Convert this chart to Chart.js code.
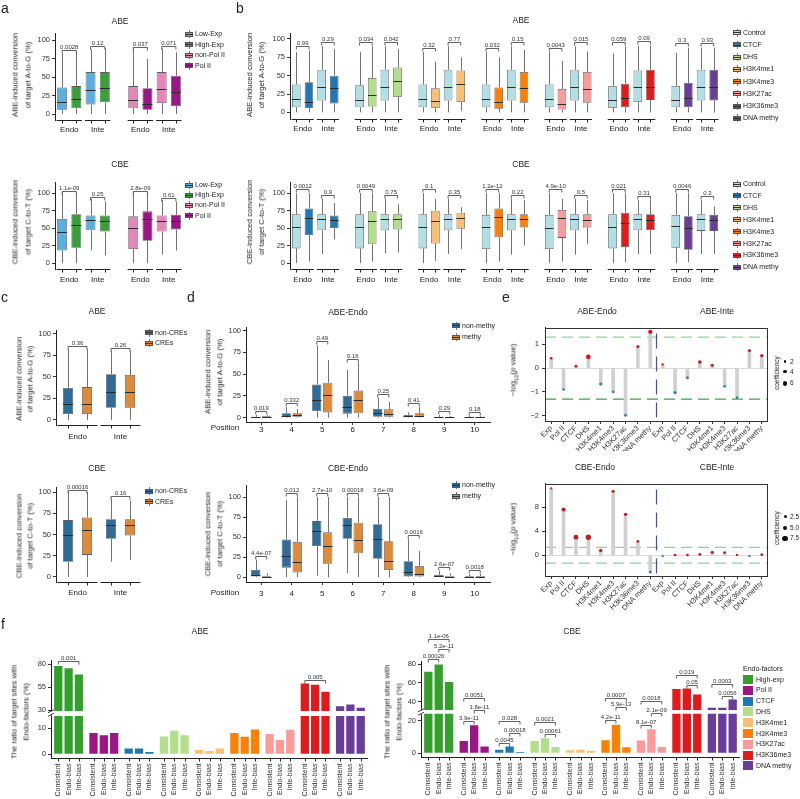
<!DOCTYPE html>
<html>
<head>
<meta charset="utf-8">
<title>Endo vs Inte editing</title>
<script src="https://cdn.jsdelivr.net/npm/chart.js@4.4.1/dist/chart.umd.min.js"></script>
<style>
  html, body { margin: 0; padding: 0; background: #fff; }
  body { position: relative; width: 800px; height: 799px; overflow: hidden;
         font-family: 'Liberation Sans', Arial, Helvetica, sans-serif; color: #222; }
  canvas { position: absolute; }
  .t { position: absolute; white-space: nowrap; line-height: 1.2; text-align: center; color: #222; will-change: transform; }
  .k { position: absolute; }
</style>
</head>
<body>
<script>
// ---------------- data ----------------
// every box is [min, q1, median, q3, max] of the conversion (%)
const facetNames = ['Endo', 'Inte'];
const pctTicks = [0, 25, 50, 75, 100];

// a: expression / Pol II
const aSeries = ['Low-Exp', 'High-Exp', 'non-Pol II', 'Pol II'];
const aColors = ['#5aaee0', '#37a03a', '#e586bb', '#9c1485'];
// order: Endo A, Endo B, Inte A, Inte B
const aAbeExp = [[0, 6, 17, 36, 82], [0, 8, 20, 38, 84], [0, 13, 33, 57, 88], [0, 16, 35, 57, 89]];
const aAbePol = [[0, 8, 19, 38, 88], [0, 6, 14, 35, 75], [0, 15, 34, 57, 89], [0, 11, 30, 52, 84]];
const aAbeP = ['0.0028', '0.12', '0.037', '0.071'];
const aCbeExp = [[0, 18, 45, 63, 100], [0, 22, 55, 70, 100], [18, 47, 62, 68, 92], [11, 45, 60, 68, 88]];
const aCbePol = [[0, 20, 50, 67, 100], [0, 32, 63, 74, 100], [12, 45, 60, 68, 90], [18, 48, 60, 69, 88]];
const aCbeP = ['1.1e-09', '0.25', '2.8e-09', '0.61'];

// b: epigenetic factors vs control
const bSeries = ['Control', 'CTCF', 'DHS', 'H3K4me1', 'H3K4me3', 'H3K27ac', 'H3K36me3', 'DNA methy'];
const bColors = ['#b0e0e6', '#1f78b4', '#b2df8a', '#fdbf6f', '#ff7f00', '#fb9a99', '#e31a1c', '#6a3d9a'];
// one row per factor: Endo control, Endo factor, Inte control, Inte factor
const bAbeBoxes = [
  [[0, 7, 18, 38, 82], [0, 6, 14, 41, 84], [0, 16, 35, 58, 90], [0, 12, 33, 50, 86]],
  [[0, 7, 17, 37, 82], [0, 8, 24, 47, 90], [0, 16, 34, 58, 90], [0, 21, 43, 61, 86]],
  [[0, 7, 18, 38, 82], [0, 6, 15, 33, 69], [0, 16, 35, 58, 90], [2, 14, 38, 57, 75]],
  [[0, 7, 18, 38, 82], [0, 5, 14, 34, 75], [0, 16, 35, 58, 90], [0, 13, 33, 55, 85]],
  [[0, 7, 18, 38, 82], [0, 4, 12, 32, 70], [0, 16, 35, 58, 90], [0, 13, 32, 55, 83]],
  [[0, 6, 17, 36, 80], [0, 7, 19, 39, 90], [0, 14, 34, 57, 91], [0, 17, 35, 58, 91]],
  [[0, 7, 17, 36, 81], [0, 7, 19, 40, 88], [0, 16, 35, 58, 88], [0, 16, 35, 58, 88]]
];
const bAbeP = ['0.99', '0.29', '0.034', '0.042', '0.32', '0.77', '0.032', '0.15', '0.0043', '0.015', '0.059', '0.09', '0.3', '0.93'];
const bCbeBoxes = [
  [[0, 21, 52, 70, 100], [2, 40, 64, 78, 100], [13, 47, 63, 70, 92], [34, 50, 62, 68, 86]],
  [[0, 21, 51, 70, 100], [2, 27, 60, 74, 100], [14, 47, 63, 70, 92], [15, 48, 63, 70, 84]],
  [[0, 21, 52, 70, 100], [3, 28, 60, 75, 92], [13, 47, 63, 70, 92], [20, 49, 64, 72, 80]],
  [[0, 20, 51, 69, 100], [2, 37, 66, 78, 100], [12, 47, 63, 70, 92], [25, 51, 63, 70, 90]],
  [[0, 20, 50, 69, 100], [2, 36, 65, 76, 92], [12, 47, 63, 70, 92], [27, 51, 62, 70, 90]],
  [[0, 21, 51, 70, 100], [1, 23, 57, 72, 100], [13, 47, 63, 70, 90], [13, 47, 62, 70, 90]],
  [[0, 22, 53, 69, 100], [1, 19, 50, 67, 100], [13, 46, 63, 70, 90], [13, 46, 61, 69, 81]]
];
const bCbeP = ['0.0012', '0.9', '0.0049', '0.75', '0.1', '0.35', '1.2e-12', '0.22', '4.9e-10', '0.5', '0.021', '0.31', '0.0046', '0.3'];

// c: CREs
const cSeries = ['non-CREs', 'CREs'];
const cColors = ['#2e6c9a', '#de8a38'];
const cAbeNon = [[0, 7, 18, 37, 82], [0, 14, 32, 53, 80]];
const cAbeCre = [[0, 7, 18, 38, 82], [0, 14, 32, 52, 80]];
const cAbeP = ['0.36', '0.26'];
const cCbeNon = [[0, 18, 50, 67, 100], [18, 45, 61, 68, 92]];
const cCbeCre = [[0, 26, 55, 70, 100], [20, 49, 61, 68, 90]];
const cCbeP = ['0.00016', '0.16'];

// d: DNA methylation by protospacer position
const dPositions = ['3', '4', '5', '6', '7', '8', '9', '10'];
const dSeries = ['non-methy', 'methy'];
const dAbeNon = [[0, 0, 0.5, 1, 3], [0, 0.5, 2, 5, 12], [0, 7.6, 20, 38, 83], [0, 4.6, 12, 25, 55],
                 [0, 1, 5, 10, 23], [0, 0.5, 1.5, 3, 6], [0, 0, 0.5, 1, 3], [0, 0, 0.3, 0.8, 2]];
const dAbeMethy = [[0, 0, 1, 1.5, 3], [0, 1, 2.5, 5, 10], [0, 6, 25.6, 40, 66], [0, 5, 20, 31, 63],
                   [0, 1, 4, 9.5, 18], [0, 0.5, 2, 5, 12], [0, 0, 0.3, 0.8, 2], [0, 0, 0.3, 0.8, 2]];
const dAbeP = ['0.019', '0.332', '0.49', '0.16', '0.25', '0.41', '0.29', '0.18'];
const dCbeNon = [[0, 1, 3, 9, 22], [0, 12, 27, 47, 96], [2, 39, 58, 70, 100], [5, 48, 65, 74, 100],
                 [0, 23, 48, 66, 100], [0, 1, 6, 20, 48], [0, 0, 1, 3, 8], [0, 0, 0.5, 1.5, 4]];
const dCbeMethy = [[0, 0, 0.5, 2, 5], [0, 6, 19, 44, 100], [0, 17, 39, 56, 100], [0, 30, 47, 68, 100],
                   [0, 9, 20, 45, 100], [0, 1, 4, 14, 33], [0, 0, 0.5, 2, 5], [0, 0, 0.5, 1.5, 4]];
const dCbeP = ['4.4e-07', '0.012', '2.7e-10', '0.00018', '3.6e-09', '0.0016', '2.6e-07', '0.0018'];

// e: -log10(p) signed by direction, point size = coefficient
const eFactors = ['Exp', 'Pol II', 'CTCF', 'DHS', 'H3K4me1', 'H3K4me3', 'H3K27ac', 'H3K36me3', 'DNA methy'];
const eAbeEndo = [0.41, -0.9, 0.08, 0.47, -0.67, -1.0, -1.98, 0.9, 1.52];
const eAbeInte = [0.15, -1.03, -0.41, 0.25, 0.12, -0.77, -1.24, 0.74, 0.52];
const eAbeEndoCoef = [2, 2, 2, 6, 3, 2, 2.5, 2.5, 5];
const eAbeInteCoef = [1.5, 3, 2.5, 3.5, 2.5, 2, 2, 2.5, 3];
const eCbeEndo = [11.1, 7.6, 3.0, 3.0, 0.8, 10.6, 6.8, 2.3, -2.8];
const eCbeInte = [-0.15, 0.05, 0.05, 0.15, 0.5, 0.45, 0.05, -0.15, 0.1];
const eCbeEndoCoef = [1.5, 4.5, 6.5, 8, 3, 2.5, 3, 2, 2];
const eCbeInteCoef = [1.5, 2, 2, 2, 2.5, 2, 1.5, 1.5, 2];

// f: ratio of target sites with endo-factors (%)
const fGroups = ['High-exp', 'Pol II', 'CTCF', 'DHS', 'H3K4me1', 'H3K4me3', 'H3K27ac', 'H3K36me3', 'DNA methy'];
const fColors = ['#33a02c', '#9c1485', '#1f78b4', '#b2df8a', '#fdbf6f', '#ff7f00', '#fb9a99', '#e31a1c', '#6a3d9a'];
const fKinds = ['Consistent', 'Endo-bias', 'Inte-bias'];
const fAbeConsistent = [78.2, 8.2, 2.2, 6.8, 1.7, 8.2, 7.8, 59.2, 34.4];
const fAbeEndoBias = [75.6, 7.3, 2.2, 9.0, 1.3, 6.7, 5.5, 57.7, 36.2];
const fAbeInteBias = [69.0, 8.2, 0.9, 7.3, 2.2, 9.5, 9.4, 50.0, 32.6];
const fCbeConsistent = [71.8, 7.6, 2.1, 7.6, 1.9, 8.0, 7.8, 53.4, 33.6];
const fCbeEndoBias = [79.6, 17.3, 4.1, 9.3, 2.1, 17.5, 14.8, 54.1, 33.6];
const fCbeInteBias = [61.0, 4.1, 0.8, 3.9, 1.6, 3.7, 3.9, 47.8, 42.5];
// [group, from kind, to kind, bracket height, axis, p]
const fAbeTests = [[0, 0, 2, 84, 'yHi', '0.001'], [7, 0, 2, 62.8, 'yHi', '0.005']];
const fCbeTests = [
  [0, 0, 1, 84.9, 'yHi', '0.00026'], [0, 1, 2, 95.5, 'yHi', '5.2e-11'], [0, 0, 2, 106, 'yHi', '1.1e-06'],
  [1, 0, 1, 19.6, 'yLo', '3.9e-11'], [1, 1, 2, 26.8, 'yLo', '1.8e-11'], [1, 0, 2, 34, 'yLo', '0.0051'],
  [2, 0, 1, 6.2, 'yLo', '0.0045'], [2, 1, 2, 12.4, 'yLo', '0.00018'], [2, 0, 2, 19.6, 'yLo', '0.028'],
  [3, 1, 2, 12, 'yLo', '0.00061'], [3, 0, 2, 19.2, 'yLo', '0.0021'],
  [5, 0, 1, 20.6, 'yLo', '4.2e-11'], [5, 1, 2, 28.2, 'yLo', '5.9e-13'], [5, 0, 2, 34, 'yLo', '0.0007'],
  [6, 0, 1, 17.5, 'yLo', '8.1e-07'], [6, 1, 2, 24.7, 'yLo', '2.1e-09'], [6, 0, 2, 31.9, 'yLo', '0.0018'],
  [7, 1, 2, 57.3, 'yHi', '0.05'], [7, 0, 2, 67.9, 'yHi', '0.019'],
  [8, 1, 2, 46, 'yHi', '0.0056'], [8, 0, 2, 59, 'yHi', '0.0003']
];

// ---------------- helpers ----------------
const FONT = "'Liberation Sans', Arial, Helvetica, sans-serif";
Chart.defaults.font.family = FONT;
Chart.defaults.color = '#333';
Chart.defaults.animation = false;
Chart.defaults.responsive = false;
Chart.defaults.maintainAspectRatio = false;
Chart.defaults.plugins.legend.display = false;
Chart.defaults.plugins.tooltip.enabled = false;
const RED = '#c8171f', BLUE = '#3b7cc6';

function addCanvas(left, top, w, h) {
  const c = document.createElement('canvas');
  c.width = Math.round(w); c.height = Math.round(h);
  c.style.left = left + 'px'; c.style.top = top + 'px';
  document.body.appendChild(c);
  return c;
}

function text(html, x, y, o = {}) {
  const d = document.createElement('div');
  d.className = 't';
  d.innerHTML = html;
  d.style.left = x + 'px';
  d.style.top = y + 'px';
  d.style.fontSize = (o.size || 8) + 'px';
  if (o.lh) d.style.lineHeight = o.lh + 'px';
  const tx = o.left ? '0' : '-50%';
  d.style.transform = `translate(${tx},-50%)` + (o.rot ? ` rotate(${o.rot}deg)` : '');
  document.body.appendChild(d);
}

function seg(ctx, x0, y0, x1, y1) {
  ctx.beginPath(); ctx.moveTo(x0, y0); ctx.lineTo(x1, y1); ctx.stroke();
}

function yAxis(range, ticks, w, extra, pad) {
  return Object.assign({
    type: 'linear',
    min: range[0], max: range[1],
    afterBuildTicks: s => { s.ticks = ticks.map(v => ({ value: v })); },
    afterFit: s => { s.width = w; },
    ticks: { font: { size: 7.5 }, color: '#333', padding: pad || 2,
             callback: v => (v < 0 ? '\u2212' + Math.abs(v) : String(v)) },
    grid: { drawOnChartArea: false, tickLength: 3, color: '#333' },
    border: { color: '#222', width: 1 }
  }, extra || {});
}

// whiskers behind the boxes, medians on top
function eachBox(chart, fn) {
  const ctx = chart.ctx;
  ctx.save();
  chart.data.datasets.forEach((ds, di) => {
    if (!ds.boxes) return;
    const meta = chart.getDatasetMeta(di);
    const y = chart.scales[meta.yAxisID];
    meta.data.forEach((el, i) => { if (ds.boxes[i]) fn(ctx, el, ds.boxes[i], y); });
  });
  ctx.restore();
}
const boxPlugin = {
  id: 'boxWhiskers',
  beforeDatasetsDraw(chart) {
    eachBox(chart, (ctx, el, q, y) => {
      ctx.strokeStyle = '#727272'; ctx.lineWidth = 1;
      const x = Math.round(el.x) + 0.5;
      seg(ctx, x, y.getPixelForValue(q[0]), x, y.getPixelForValue(q[1]));
      seg(ctx, x, y.getPixelForValue(q[3]), x, y.getPixelForValue(q[4]));
    });
  },
  afterDatasetsDraw(chart) {
    eachBox(chart, (ctx, el, q, y) => {
      ctx.strokeStyle = '#2b2b2b'; ctx.lineWidth = 1;
      const ym = Math.round(y.getPixelForValue(q[2])) + 0.5;
      seg(ctx, el.x - el.width / 2, ym, el.x + el.width / 2, ym);
    });
  }
};

function bracketPlugin(items) {
  return {
    id: 'brackets',
    afterDraw(chart) {
      const ctx = chart.ctx;
      ctx.save();
      ctx.strokeStyle = '#3a3a3a'; ctx.lineWidth = 0.8;
      ctx.fillStyle = '#333'; ctx.font = `6px ${FONT}`;
      ctx.textAlign = 'center'; ctx.textBaseline = 'bottom';
      items.forEach(it => {
        const xa = chart.getDatasetMeta(it.a[0]).data[it.a[1]].x;
        const xb = chart.getDatasetMeta(it.b[0]).data[it.b[1]].x;
        const y = Math.round(chart.scales[it.axis || 'y'].getPixelForValue(it.y)) + 0.5;
        ctx.beginPath();
        ctx.moveTo(xa, y + 3); ctx.lineTo(xa, y); ctx.lineTo(xb, y); ctx.lineTo(xb, y + 3);
        ctx.stroke();
        ctx.fillText(it.text, (xa + xb) / 2, y - 0.5);
      });
      ctx.restore();
    }
  };
}

// broken x axis, one piece per facet, with facet label below
function facetPlugin(groups, gap) {
  return {
    id: 'facets',
    afterDraw(chart) {
      const { ctx, chartArea: a, scales: { x } } = chart;
      const half = (x.getPixelForValue(1) - x.getPixelForValue(0)) / 2;
      const yb = Math.round(a.bottom) + 0.5;
      ctx.save();
      ctx.strokeStyle = '#222'; ctx.lineWidth = 1;
      ctx.fillStyle = '#222'; ctx.font = `8px ${FONT}`;
      ctx.textAlign = 'center'; ctx.textBaseline = 'middle';
      groups.forEach(([s, e, label]) => {
        const x0 = x.getPixelForValue(s) - half + 1.5, x1 = x.getPixelForValue(e) + half - 1.5;
        seg(ctx, x0, yb, x1, yb);
        chart.data.datasets.forEach((ds, di) => {
          chart.getDatasetMeta(di).data.forEach((el, j) => {
            if (j >= s && j <= e && ds.boxes[j]) seg(ctx, Math.round(el.x) + 0.5, yb, Math.round(el.x) + 0.5, yb + 3);
          });
        });
        ctx.fillText(label, (x0 + x1) / 2, a.bottom + gap);
      });
      ctx.restore();
    }
  };
}

function boxChart(o) {
  const [l, t, r, b] = o.area;
  const yw = 22, padT = o.padT || 14, padB = o.padB || 18, xh = o.xh || 0;
  const cv = addCanvas(l - yw, t - padT, r - l + yw + 2, b - t + padT + xh + padB);
  const plugins = [boxPlugin, bracketPlugin(o.brackets)];
  if (o.facets) plugins.push(facetPlugin(o.facets, o.labelGap || 10));
  return new Chart(cv, {
    type: 'bar',
    data: {
      labels: o.labels,
      datasets: o.sets.map(s => ({
        data: s.boxes.map(q => q ? [q[1], q[3]] : null),
        boxes: s.boxes,
        backgroundColor: s.colors,
        borderColor: '#5e5e5e',
        borderWidth: 0.8,
        borderSkipped: false,
        barPercentage: o.barPct,
        categoryPercentage: o.catPct
      }))
    },
    options: {
      layout: { padding: { top: padT, bottom: padB, left: 0, right: 2 } },
      scales: { x: o.xAxis || { display: false }, y: yAxis(o.y, pctTicks, yw) }
    },
    plugins
  });
}

// a and b: one slot per box, a blank slot between factor groups
function slotChart(area, yRange, groups, colorPairs, pvals, o) {
  const boxes = [], colors = [], facets = [];
  groups.forEach((g, gi) => {
    if (gi) { boxes.push(null); colors.push('rgba(0,0,0,0)'); }
    const s = boxes.length;
    g.forEach((q, i) => { boxes.push(q); colors.push(colorPairs[gi][i % 2]); });
    facets.push([s, s + 1, facetNames[0]], [s + 2, s + 3, facetNames[1]]);
  });
  const brackets = facets.map((f, i) => ({
    a: [0, f[0]], b: [0, f[1]], text: pvals[i],
    y: Math.max(boxes[f[0]][4], boxes[f[1]][4]) + o.gap
  }));
  return boxChart({ area, y: yRange, labels: boxes.map((_, i) => 'slot' + i),
    sets: [{ boxes, colors }], barPct: o.barPct, catPct: 1,
    facets, brackets, labelGap: o.labelGap });
}

// c and d: two dodged series per category
function pairChart(area, yRange, labels, sets, pvals, o) {
  const brackets = labels.map((_, i) => ({
    a: [0, i], b: [1, i], text: pvals[i],
    y: Math.max(sets[0].boxes[i][4], sets[1].boxes[i][4]) + o.gap
  }));
  return boxChart({ area, y: yRange, labels, sets, barPct: o.barPct, catPct: o.catPct,
    facets: o.facets ? labels.map((l, i) => [i, i, l]) : null, brackets,
    labelGap: o.labelGap, xAxis: o.xAxis, xh: o.xh, padB: o.padB });
}

function positionAxis(h, pad) {
  return {
    ticks: { font: { size: 8 }, color: '#222', padding: pad },
    grid: { offset: false, drawOnChartArea: false, tickLength: 3, color: '#333' },
    border: { color: '#222', width: 1 },
    afterFit: s => { s.height = h; }
  };
}

function guidePlugin(lines, zeroColor) {
  return {
    id: 'guides',
    beforeDatasetsDraw(chart) {
      const { ctx, chartArea: a, scales: { x, y } } = chart;
      ctx.save();
      ctx.lineWidth = 1;
      ctx.strokeStyle = zeroColor;
      const y0 = Math.round(y.getPixelForValue(0)) + 0.5;
      seg(ctx, a.left, y0, a.right, y0);
      lines.forEach(([v, c]) => {
        ctx.strokeStyle = c; ctx.setLineDash([11, 6]); ctx.lineWidth = 1.2;
        const yy = y.getPixelForValue(v);
        seg(ctx, a.left, yy, a.right, yy);
      });
      const xs = (x.getPixelForValue(8) + x.getPixelForValue(9)) / 2;
      ctx.strokeStyle = '#3d4fc1'; ctx.setLineDash([15, 8]); ctx.lineDashOffset = -6;
      seg(ctx, xs, a.top, xs, a.bottom);
      ctx.restore();
    },
    afterDraw(chart) {
      const { ctx, chartArea: a } = chart;
      ctx.save();
      ctx.strokeStyle = '#333'; ctx.lineWidth = 1;
      ctx.strokeRect(Math.round(a.left) + 0.5, Math.round(a.top) + 0.5,
                     Math.round(a.width) - 1, Math.round(a.height) - 1);
      ctx.restore();
    }
  };
}

function lollipop(area, yRange, ticks, values, coef, lines, xh) {
  const [l, t, r, b] = area;
  const yw = 20, padT = 6;
  const cv = addCanvas(l - yw, t - padT, r - l + yw + 2, b - t + padT + xh + 2);
  return new Chart(cv, {
    type: 'bar',
    data: {
      labels: [...eFactors, ...eFactors],
      datasets: [
        { data: values, backgroundColor: '#d0d0d0', barThickness: 3, order: 2 },
        { type: 'line', data: values, showLine: false, order: 1,
          pointRadius: coef.map(c => 0.95 * Math.sqrt(c)),
          pointBackgroundColor: values.map(v => v > 0 ? RED : BLUE),
          pointBorderColor: 'rgba(0,0,0,0)', pointBorderWidth: 0 }
      ]
    },
    options: {
      layout: { padding: { top: padT, bottom: 2, left: 0, right: 2 } },
      scales: {
        x: { ticks: { font: { size: 7.5 }, color: '#333', minRotation: 45, maxRotation: 45,
                      autoSkip: false, padding: 0 },
             grid: { offset: false, drawOnChartArea: false, tickLength: 3, color: '#333' },
             border: { display: false },
             afterFit: s => { s.height = xh; } },
        y: yAxis(yRange, ticks, yw, {}, 3)
      }
    },
    plugins: [guidePlugin(lines, '#d9d9d9')]
  });
}

function ratioPlugin() {
  return {
    id: 'ratioAxis',
    afterDraw(chart) {
      const { ctx, chartArea: a } = chart;
      ctx.save();
      ctx.strokeStyle = '#222'; ctx.lineWidth = 1;
      const yb = Math.round(a.bottom) + 0.5;
      seg(ctx, a.left, yb, a.right, yb);
      ctx.font = `7px ${FONT}`; ctx.fillStyle = '#333';
      ctx.textAlign = 'right'; ctx.textBaseline = 'middle';
      for (let k = 0; k < 3; k++) {
        chart.getDatasetMeta(k).data.forEach(el => {
          const x = Math.round(el.x) + 0.5;
          seg(ctx, x, yb, x, yb + 3);
          ctx.save();
          ctx.translate(el.x, yb + 5);
          ctx.rotate(-Math.PI / 2);
          ctx.fillText(fKinds[k], 0, 0);
          ctx.restore();
        });
      }
      // axis break mark
      const yk = chart.scales.yLo.top + 2;
      ctx.fillStyle = '#fff';
      ctx.fillRect(a.left - 3, yk - 2, 6, 4);
      ctx.strokeStyle = '#222'; ctx.lineWidth = 0.9;
      seg(ctx, a.left - 3, yk - 0.5, a.left + 3, yk - 3.5);
      seg(ctx, a.left - 3, yk + 3, a.left + 3, yk);
      ctx.restore();
    }
  };
}

function ratioChart(area, lo, hi, series, tests, padT) {
  const [l, t, r, b] = area;
  const yw = 20;
  const cv = addCanvas(l - yw, t - padT, r - l + yw + 2, 799 - (t - padT));
  const common = { backgroundColor: fColors, barPercentage: 0.8, categoryPercentage: 0.88 };
  const lower = series.map((v, k) => Object.assign({
    data: v.map(x => Math.min(x, lo.cap)), yAxisID: 'yLo', stack: fKinds[k] }, common));
  const upper = series.map((v, k) => Object.assign({
    data: v.map(x => x > hi.range[0] ? [hi.range[0], x] : null), yAxisID: 'yHi', stack: fKinds[k] }, common));
  const hiPx = (hi.range[1] - hi.range[0]) * hi.px, loPx = (lo.range[1] - lo.range[0]) * lo.px;
  const brackets = tests.map(([g, k1, k2, y, axis, p]) => ({ a: [k1, g], b: [k2, g], y, axis, text: p }));
  return new Chart(cv, {
    type: 'bar',
    data: { labels: fGroups, datasets: [...lower, ...upper] },
    options: {
      layout: { padding: { top: padT, bottom: 799 - b, left: 0, right: 2 } },
      scales: {
        x: { display: false },
        yLo: yAxis(lo.range, lo.ticks, yw, { position: 'left', stack: 'f', stackWeight: loPx }),
        yHi: yAxis(hi.range, hi.ticks, yw, { position: 'left', stack: 'f', stackWeight: hiPx })
      }
    },
    plugins: [ratioPlugin(), bracketPlugin(brackets)]
  });
}

function boxLegend(x, y0, step, names, colors) {
  names.forEach((n, i) => {
    const y = y0 + i * step;
    const k = document.createElement('div');
    k.className = 'k';
    k.style.cssText = `left:${x}px;top:${y - 4}px;width:8px;height:8px`;
    k.innerHTML =
      `<div style="position:absolute;left:3.5px;top:0;width:1px;height:8px;background:#777"></div>` +
      `<div style="position:absolute;left:0;top:1.5px;width:8px;height:5px;box-sizing:border-box;border:0.8px solid #555;background:${colors[i]}"></div>` +
      `<div style="position:absolute;left:0;top:3.6px;width:8px;height:0.9px;background:#333"></div>`;
    document.body.appendChild(k);
    text(n, x + 10, y, { size: 7, left: true });
  });
}

function sizeLegend(x, labels, ys, radii) {
  text('coefficiency', x - 8, (ys[0] + ys[2]) / 2, { size: 6.5, rot: -90 });
  labels.forEach((s, i) => {
    const d = document.createElement('div');
    d.className = 'k';
    const r = radii[i];
    d.style.cssText = `left:${x - r}px;top:${ys[i] - r}px;width:${2 * r}px;height:${2 * r}px;border-radius:50%;background:#111`;
    document.body.appendChild(d);
    text(s, x + 4.5, ys[i], { size: 6.5, left: true });
  });
}

// ---------------- panel letters ----------------
[['a', 1, 8.4], ['b', 236, 8.4], ['c', 1, 296.8], ['d', 187, 296.8], ['e', 502, 296.8], ['f', 1, 623.5]]
  .forEach(([s, x, y]) => text(s, x, y, { size: 14, left: true }));

// ---------------- a ----------------
slotChart([55, 33, 183, 120], [-8, 110], [aAbeExp, aAbePol],
  [[aColors[0], aColors[1]], [aColors[2], aColors[3]]], aAbeP, { gap: 3, barPct: 0.7, labelGap: 9.5 });
slotChart([55, 181.7, 183, 268.3], [-8.5, 116], [aCbeExp, aCbePol],
  [[aColors[0], aColors[1]], [aColors[2], aColors[3]]], aCbeP, { gap: 3, barPct: 0.7, labelGap: 11 });
text('ABE', 120, 21, { size: 8.5 });
text('CBE', 120, 164, { size: 8.5 });
text('ABE-induced conversion<br>of target A-to-G (%)', 21.5, 75, { rot: -90, size: 7.7, lh: 12.5 });
text('CBE-induced conversion<br>of target C-to-T (%)', 21.5, 222, { rot: -90, size: 7.7, lh: 12.5 });
boxLegend(185, 34, 10.6, aSeries, aColors);
boxLegend(185, 185, 10.2, aSeries, aColors);

// ---------------- b ----------------
const bPairs = bColors.slice(1).map(c => [bColors[0], c]);
slotChart([290, 33.3, 719.5, 119.3], [-9, 108], bAbeBoxes, bPairs, bAbeP, { gap: 6, barPct: 0.68, labelGap: 10 });
slotChart([290, 181.7, 719.5, 268.3], [-8.5, 116], bCbeBoxes, bPairs, bCbeP, { gap: 6, barPct: 0.68, labelGap: 11 });
text('ABE', 521, 20, { size: 8.5 });
text('CBE', 521, 164, { size: 8.5 });
text('ABE-induced conversion<br>of target A-to-G (%)', 256, 75, { rot: -90, size: 7.7, lh: 12 });
text('CBE-induced conversion<br>of target C-to-T (%)', 256, 222, { rot: -90, size: 7.7, lh: 12 });
boxLegend(733, 32.7, 12.23, bSeries, bColors);
boxLegend(733, 184, 11.9, bSeries, bColors);

// ---------------- c ----------------
const cCol = c => facetNames.map(() => c);
pairChart([56, 330, 142, 425], [-5.8, 104], facetNames,
  [{ boxes: cAbeNon, colors: cCol(cColors[0]) }, { boxes: cAbeCre, colors: cCol(cColors[1]) }],
  cAbeP, { gap: 3, barPct: 0.53, catPct: 0.88, facets: true, labelGap: 11.5 });
pairChart([56, 486.7, 142, 581.7], [-5.9, 106], facetNames,
  [{ boxes: cCbeNon, colors: cCol(cColors[0]) }, { boxes: cCbeCre, colors: cCol(cColors[1]) }],
  cCbeP, { gap: 3, barPct: 0.53, catPct: 0.88, facets: true, labelGap: 11 });
text('ABE', 96.7, 310.7, { size: 8.5 });
text('CBE', 96.7, 468.3, { size: 8.5 });
text('ABE-induced conversion<br>of target A-to-G (%)', 25, 379, { rot: -90, size: 7.7, lh: 10.5 });
text('CBE-induced conversion<br>of target C-to-T (%)', 25, 536, { rot: -90, size: 7.7, lh: 10.5 });
boxLegend(145, 332.7, 10.6, cSeries, cColors);
boxLegend(145, 491, 10.7, cSeries, cColors);

// ---------------- d ----------------
const dCol = c => dPositions.map(() => c);
pairChart([246, 326.7, 490, 421.7], [-5, 104], dPositions,
  [{ boxes: dAbeNon, colors: dCol(cColors[0]) }, { boxes: dAbeMethy, colors: dCol(cColors[1]) }],
  dAbeP, { gap: 4.5, barPct: 0.85, catPct: 0.72, xAxis: positionAxis(14, 0), xh: 14, padB: 4 });
pairChart([246, 485, 490, 581.7], [-5.9, 115], dPositions,
  [{ boxes: dCbeNon, colors: dCol(cColors[0]) }, { boxes: dCbeMethy, colors: dCol(cColors[1]) }],
  dCbeP, { gap: 4.5, barPct: 0.85, catPct: 0.72, xAxis: positionAxis(18, 4), xh: 18, padB: 2 });
text('ABE-Endo', 348.3, 311.7, { size: 8.5 });
text('CBE-Endo', 348.3, 468.3, { size: 8.5 });
text('Position', 225, 428.3, { size: 8 });
text('Position', 225, 592.7, { size: 8 });
text('ABE-induced conversion<br>of target A-to-G (%)', 214, 372, { rot: -90, size: 7.7, lh: 11.7 });
text('CBE-induced conversion<br>of target C-to-T (%)', 214, 534, { rot: -90, size: 7.7, lh: 11.7 });
boxLegend(452, 325.7, 11.6, dSeries, cColors);
boxLegend(452, 485, 11, dSeries, cColors);

// ---------------- e ----------------
lollipop([545, 326, 770, 421], [-2.22, 1.70], [-2, -1, 0, 1],
  [...eAbeEndo, ...eAbeInte], [...eAbeEndoCoef, ...eAbeInteCoef],
  [[1.3, '#93d3a1'], [-1.3, '#36a653']], 30);
lollipop([545, 481.7, 770, 576], [-3.43, 11.9], [0, 4, 8],
  [...eCbeEndo, ...eCbeInte], [...eCbeEndoCoef, ...eCbeInteCoef],
  [[1.3, '#8fd09c'], [-1.3, '#8fd09c']], 38);
text('ABE-Endo', 597, 311, { size: 8.5 });
text('ABE-Inte', 717, 311, { size: 8.5 });
text('CBE-Endo', 595, 466.7, { size: 8.5 });
text('CBE-Inte', 716.7, 466.7, { size: 8.5 });
text('\u2212log<sub style="font-size:5.5px">10</sub>(<i>p</i> value)', 514, 370, { rot: -90, size: 8 });
text('\u2212log<sub style="font-size:5.5px">10</sub>(<i>p</i> value)', 514, 529, { rot: -90, size: 8 });
sizeLegend(785, ['2', '4', '6'], [361.7, 371.7, 383.3], [1.3, 1.8, 2.3]);
sizeLegend(785, ['2.5', '5.0', '7.5'], [516.7, 527.7, 538.3], [1.5, 2.1, 2.6]);

// ---------------- f ----------------
ratioChart([51, 659.5, 368, 757],
  { range: [-1.4, 16.5], cap: 14.7, ticks: [0, 10], px: 2.6 },
  { range: [28.9, 84.7], ticks: [30, 55, 80], px: 0.913 },
  [fAbeConsistent, fAbeEndoBias, fAbeInteBias], fAbeTests, 20);
ratioChart([421, 661.4, 739.6, 757],
  { range: [-2.3, 26.5], cap: 24.3, ticks: [0, 20], px: 1.617 },
  { range: [31, 83.2], ticks: [40, 60, 80], px: 0.94 },
  [fCbeConsistent, fCbeEndoBias, fCbeInteBias], fCbeTests, 42);
text('ABE', 200, 631, { size: 8.5 });
text('CBE', 571.7, 630.7, { size: 8.5 });
text('The ratio of  target sites with<br>Endo-factors (%)', 20, 712, { rot: -90, size: 7.7, lh: 11.5 });
text('The ratio of  target sites with<br>Endo-factors (%)', 393, 712, { rot: -90, size: 7.7, lh: 11.5 });
text('Endo-factors', 743, 669.3, { size: 7, left: true });
fGroups.forEach((g, i) => {
  const y = 679.5 + i * 10.8;
  const k = document.createElement('div');
  k.className = 'k';
  k.style.cssText = `left:743px;top:${y - 4.5}px;width:10px;height:9px;background:${fColors[i]}`;
  document.body.appendChild(k);
  text(g, 756, y, { size: 7, left: true });
});
</script>
</body>
</html>
